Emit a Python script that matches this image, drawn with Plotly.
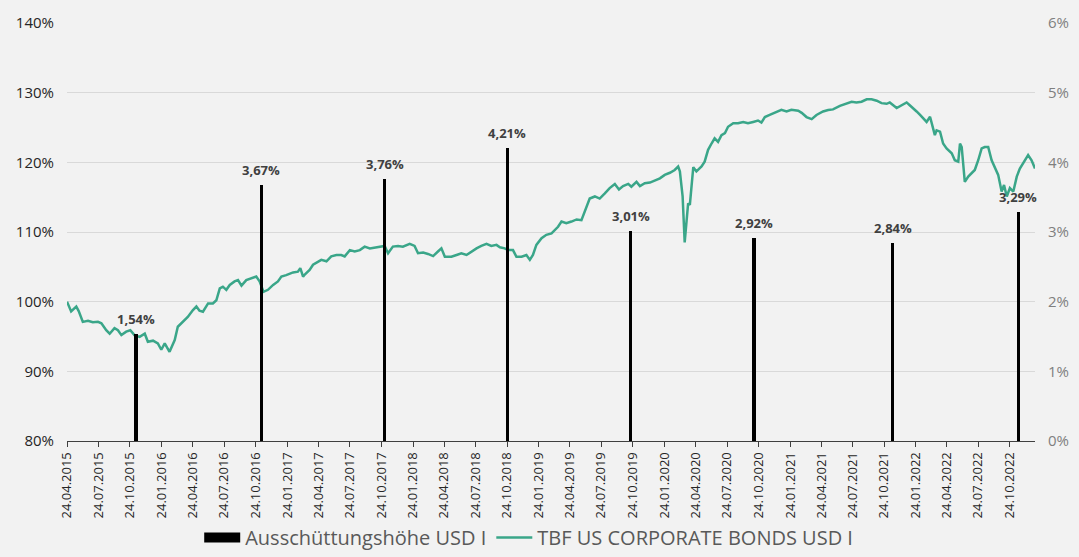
import plotly.graph_objects as go

# ---------------- data ----------------
tick_dates = [
    "2015-04-24", "2015-07-24", "2015-10-24",
    "2016-01-24", "2016-04-24", "2016-07-24", "2016-10-24",
    "2017-01-24", "2017-04-24", "2017-07-24", "2017-10-24",
    "2018-01-24", "2018-04-24", "2018-07-24", "2018-10-24",
    "2019-01-24", "2019-04-24", "2019-07-24", "2019-10-24",
    "2020-01-24", "2020-04-24", "2020-07-24", "2020-10-24",
    "2021-01-24", "2021-04-24", "2021-07-24", "2021-10-24",
    "2022-01-24", "2022-04-24", "2022-07-24", "2022-10-24",
]
tick_labels = [
    "24.04.2015", "24.07.2015", "24.10.2015",
    "24.01.2016", "24.04.2016", "24.07.2016", "24.10.2016",
    "24.01.2017", "24.04.2017", "24.07.2017", "24.10.2017",
    "24.01.2018", "24.04.2018", "24.07.2018", "24.10.2018",
    "24.01.2019", "24.04.2019", "24.07.2019", "24.10.2019",
    "24.01.2020", "24.04.2020", "24.07.2020", "24.10.2020",
    "24.01.2021", "24.04.2021", "24.07.2021", "24.10.2021",
    "24.01.2022", "24.04.2022", "24.07.2022", "24.10.2022",
]

bar_dates = ["2015-11-11", "2016-11-09", "2017-11-02", "2018-10-25",
             "2019-10-18", "2020-10-11", "2021-11-17", "2022-11-18"]
bar_values = [1.54, 3.67, 3.76, 4.21, 3.01, 2.92, 2.84, 3.29]
bar_labels = ["1,54%", "3,67%", "3,76%", "4,21%", "3,01%", "2,92%", "2,84%", "3,29%"]

line_dates = [
    "2015-04-24", "2015-05-06", "2015-05-21", "2015-05-28", "2015-06-09", "2015-06-24", "2015-07-08", "2015-07-23", "2015-08-02", "2015-08-16",
    "2015-08-26", "2015-09-09", "2015-09-19", "2015-09-29", "2015-10-13", "2015-10-25", "2015-11-06", "2015-11-21", "2015-12-06", "2015-12-15",
    "2015-12-30", "2016-01-13", "2016-01-23", "2016-02-02", "2016-02-16", "2016-03-02", "2016-03-11", "2016-03-26", "2016-04-09", "2016-04-24",
    "2016-05-04", "2016-05-13", "2016-05-23", "2016-06-07", "2016-06-21", "2016-07-01", "2016-07-11", "2016-07-20", "2016-07-30", "2016-08-09",
    "2016-08-23", "2016-09-02", "2016-09-12", "2016-09-26", "2016-10-11", "2016-10-25", "2016-11-04", "2016-11-15", "2016-11-28", "2016-12-13",
    "2016-12-27", "2017-01-06", "2017-01-20", "2017-02-09", "2017-02-23", "2017-03-02", "2017-03-10", "2017-03-15", "2017-03-29", "2017-04-08",
    "2017-05-02", "2017-05-17", "2017-05-31", "2017-06-15", "2017-06-29", "2017-07-09", "2017-07-24", "2017-08-07", "2017-08-22", "2017-09-05",
    "2017-09-20", "2017-10-04", "2017-10-19", "2017-11-02", "2017-11-12", "2017-11-26", "2017-12-11", "2017-12-25", "2018-01-14", "2018-01-28",
    "2018-02-07", "2018-02-22", "2018-03-08", "2018-03-23", "2018-04-06", "2018-04-16", "2018-04-26", "2018-05-15", "2018-05-30", "2018-06-13",
    "2018-06-28", "2018-07-12", "2018-07-27", "2018-08-10", "2018-08-25", "2018-09-08", "2018-09-23", "2018-10-03", "2018-10-17", "2018-10-27",
    "2018-11-10", "2018-11-20", "2018-12-05", "2018-12-19", "2018-12-29", "2019-01-07", "2019-01-17", "2019-02-01", "2019-02-15", "2019-03-02",
    "2019-03-21", "2019-03-31", "2019-04-14", "2019-04-29", "2019-05-14", "2019-05-28", "2019-06-12", "2019-06-21", "2019-07-06", "2019-07-20",
    "2019-08-04", "2019-08-18", "2019-09-02", "2019-09-14", "2019-09-26", "2019-10-11", "2019-10-20", "2019-11-04", "2019-11-14", "2019-11-28",
    "2019-12-13", "2019-12-27", "2020-01-11", "2020-01-25", "2020-02-09", "2020-02-23", "2020-03-04", "2020-03-09", "2020-03-17", "2020-03-23",
    "2020-03-28", "2020-04-02", "2020-04-07", "2020-04-12", "2020-04-17", "2020-04-26", "2020-05-11", "2020-05-20", "2020-05-30", "2020-06-09",
    "2020-06-18", "2020-06-28", "2020-07-08", "2020-07-18", "2020-07-27", "2020-08-11", "2020-08-25", "2020-09-09", "2020-09-23", "2020-10-08",
    "2020-10-22", "2020-11-01", "2020-11-11", "2020-11-25", "2020-12-15", "2020-12-29", "2021-01-13", "2021-01-27", "2021-02-16", "2021-02-26",
    "2021-03-12", "2021-03-27", "2021-04-10", "2021-04-29", "2021-05-14", "2021-05-28", "2021-06-17", "2021-07-06", "2021-07-21", "2021-08-04",
    "2021-08-19", "2021-09-03", "2021-09-17", "2021-10-02", "2021-10-16", "2021-10-31", "2021-11-09", "2021-11-29", "2021-12-13", "2021-12-28",
    "2022-01-06", "2022-01-16", "2022-01-26", "2022-02-05", "2022-02-14", "2022-02-24", "2022-03-06", "2022-03-15", "2022-03-20", "2022-03-25",
    "2022-04-04", "2022-04-13", "2022-04-23", "2022-05-08", "2022-05-17", "2022-05-27", "2022-06-01", "2022-06-06", "2022-06-10", "2022-06-15",
    "2022-06-25", "2022-07-05", "2022-07-14", "2022-07-24", "2022-08-03", "2022-08-12", "2022-08-22", "2022-09-01", "2022-09-11", "2022-09-20",
    "2022-09-30", "2022-10-07", "2022-10-15", "2022-10-24", "2022-11-03", "2022-11-13", "2022-11-22", "2022-12-02", "2022-12-16", "2022-12-26",
    "2023-01-05",
]
line_values = [
    100.0, 98.6, 99.3, 98.65, 97.1, 97.25, 97.05, 97.1, 96.9, 95.9,
    95.4, 96.2, 95.9, 95.2, 95.7, 95.9, 95.2, 94.95, 95.4, 94.25,
    94.4, 94.0, 93.1, 94.0, 92.8, 94.5, 96.4, 97.1, 97.8, 98.8,
    99.3, 98.7, 98.55, 99.75, 99.75, 100.2, 101.9, 102.15, 101.7, 102.4,
    102.9, 103.1, 102.3, 103.1, 103.4, 103.6, 102.9, 101.4, 101.7, 102.4,
    102.9, 103.6, 103.8, 104.2, 104.3, 104.8, 103.6, 103.9, 104.55, 105.3,
    106.0, 105.8, 106.5, 106.7, 106.7, 106.5, 107.4, 107.2, 107.4, 107.9,
    107.65, 107.8, 107.9, 108.0, 106.95, 107.9, 108.0, 107.9, 108.3, 108.0,
    106.95, 107.05, 106.85, 106.55, 107.2, 107.65, 106.45, 106.45, 106.7, 106.95,
    106.7, 107.2, 107.65, 108.0, 108.3, 108.0, 108.15, 107.8, 107.65, 107.4,
    107.4, 106.45, 106.45, 106.7, 106.0, 106.7, 108.15, 109.1, 109.6, 109.8,
    110.75, 111.5, 111.25, 111.5, 111.8, 111.7, 113.6, 114.8, 115.1, 114.8,
    115.55, 116.3, 116.9, 116.1, 116.6, 116.9, 116.5, 117.2, 116.6, 117.0,
    117.1, 117.4, 117.7, 118.2, 118.5, 118.9, 119.4, 118.7, 115.1, 108.5,
    111.7, 114.1, 113.9, 116.5, 119.3, 118.7, 119.4, 120.1, 121.8, 122.7,
    123.45, 122.95, 123.9, 124.2, 125.1, 125.6, 125.6, 125.8, 125.6, 125.8,
    126.0, 125.7, 126.5, 126.8, 127.3, 127.55, 127.3, 127.55, 127.4, 127.1,
    126.5, 126.2, 126.8, 127.3, 127.5, 127.6, 128.1, 128.5, 128.7, 128.6,
    128.7, 129.05, 129.05, 128.85, 128.5, 128.4, 128.6, 127.8, 128.2, 128.6,
    128.2, 127.8, 127.3, 126.8, 126.3, 125.8, 126.55, 124.9, 123.9, 124.6,
    124.4, 122.7, 122.0, 121.3, 120.3, 120.1, 122.7, 122.2, 119.85, 117.2,
    117.95, 118.4, 118.9, 120.3, 122.0, 122.2, 122.2, 120.3, 119.1, 118.2,
    115.8, 116.75, 115.1, 116.3, 115.8, 117.95, 119.1, 119.95, 121.05, 120.3,
    119.1,
]

left_ticks = [80, 90, 100, 110, 120, 130, 140]
right_ticks = [0, 1, 2, 3, 4, 5, 6]

bar_name = "Ausschüttungshöhe USD I"
line_name = "TBF US CORPORATE BONDS USD I"

# ---------------- style ----------------
BG = "#f2f2f2"
GREEN = "#3aa689"
FONT = "Open Sans"
BAR_WIDTH_MS = 10 * 24 * 3600 * 1000

fig = go.Figure()

fig.add_trace(go.Scatter(
    x=line_dates, y=line_values, mode="lines",
    name=line_name,
    line=dict(color=GREEN, width=2.5),
    legendrank=2,
))

fig.add_trace(go.Bar(
    x=bar_dates, y=bar_values, yaxis="y2",
    name=bar_name, showlegend=False, legendgroup="bars",
    marker=dict(color="#000000", line=dict(width=0)),
    width=[BAR_WIDTH_MS] * len(bar_dates),
))

# legend entry for the bars, drawn as a wide black block like the original
fig.add_trace(go.Scatter(
    x=[None], y=[None], mode="lines", yaxis="y2",
    name=bar_name, legendgroup="bars",
    line=dict(color="#000000", width=15),
    legendrank=1, hoverinfo="skip",
))

# value labels above the bars
for d, v, lbl in zip(bar_dates, bar_values, bar_labels):
    fig.add_annotation(
        x=d, y=v, xref="x", yref="y2", text=lbl, showarrow=False,
        yanchor="middle", yshift=15,
        font=dict(family=FONT, size=13, color="#404040", weight="bold"),
    )

fig.update_layout(
    width=1079, height=557,
    paper_bgcolor=BG, plot_bgcolor=BG,
    margin=dict(l=67, r=44, t=23, b=116, autoexpand=False),
    font=dict(family=FONT, color="#404040"),
    showlegend=True,
    legend=dict(
        orientation="h", x=0.49, xanchor="center", xref="container",
        y=0.0, yanchor="bottom", yref="container",
        font=dict(family=FONT, size=20, color="#595959"),
        bgcolor="rgba(0,0,0,0)", itemwidth=36, tracegroupgap=0,
    ),
    xaxis=dict(
        type="date", range=["2015-04-24", "2023-01-05"],
        tickmode="array", tickvals=tick_dates, ticktext=tick_labels,
        tickangle=-90, ticks="outside", ticklen=5, tickcolor="#404040",
        showline=True, linecolor="#404040", linewidth=1,
        showgrid=False, zeroline=False, automargin=False,
        tickfont=dict(family=FONT, size=13, color="#262626"),
    ),
    yaxis=dict(
        range=[80, 140], tickmode="array", tickvals=left_ticks,
        ticktext=[f"{v}%" for v in left_ticks],
        showgrid=True, gridcolor="#d9d9d9", gridwidth=1,
        zeroline=False, showline=False, ticks="", automargin=False,
        ticklabelstandoff=12,
        tickfont=dict(family=FONT, size=15, color="#262626"),
    ),
    yaxis2=dict(
        range=[0, 6], overlaying="y", side="right",
        tickmode="array", tickvals=right_ticks,
        ticktext=[f"{v}%" for v in right_ticks],
        showgrid=False, zeroline=False, showline=False, ticks="",
        automargin=False, ticklabelstandoff=12,
        tickfont=dict(family=FONT, size=15, color="#7f7f7f"),
    ),
    bargap=0,
)

fig.write_html(
    "out.html",
    config={"displayModeBar": False},
    post_script="document.body.style.margin='0';document.body.style.background='#f2f2f2';",
)
